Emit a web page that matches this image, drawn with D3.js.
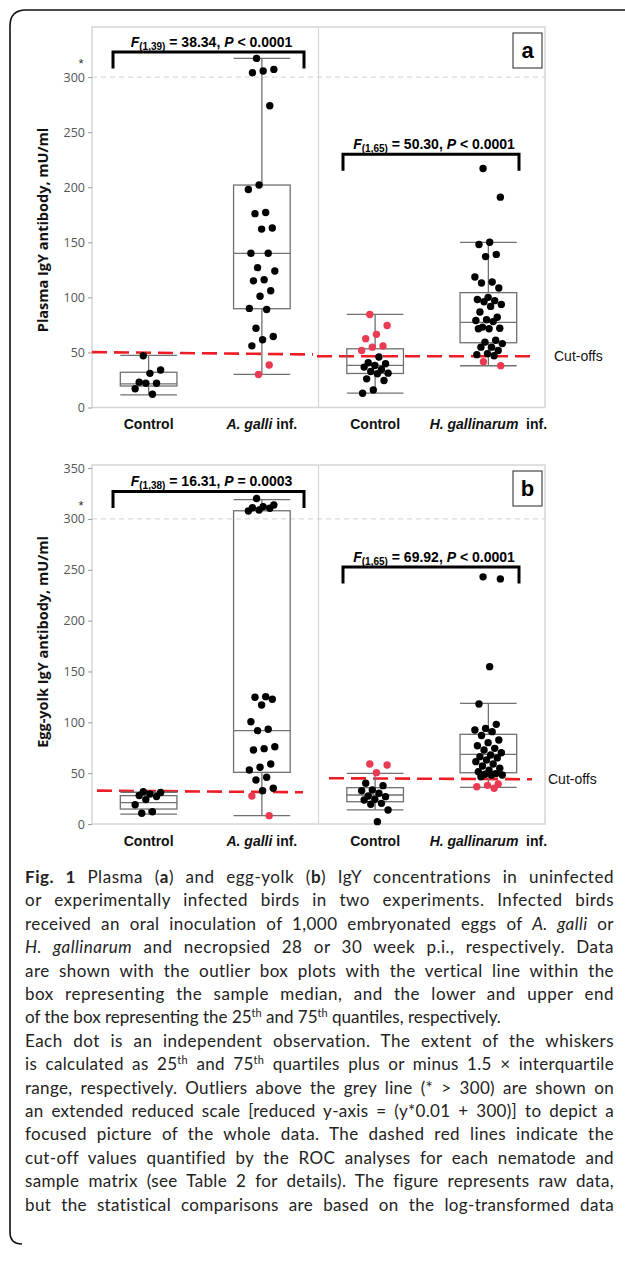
<!DOCTYPE html>
<html>
<head>
<meta charset="utf-8">
<script src="https://cdn.jsdelivr.net/npm/d3@7"></script>
<style>
  body { margin: 0; background: #fff; }
  svg { display: block; }
</style>
</head>
<body>
<div id="figure"></div>
<script>
// groups on the x axis (indexed, "Control" appears twice)
const categories = ["Control", "A. galli inf.", "Control", "H. gallinarum inf."];
const italicParts = ["", "A. galli", "", "H. gallinarum"];

const plasmaTicks = [0, 50, 100, 150, 200, 250, 300];
const yolkTicks = [0, 50, 100, 150, 200, 250, 300, 350];

// plasma IgY, mU/ml (values above 300 already on the reduced scale)
const plasmaControlGalli = [47, 34, 31, 23, 22, 22, 17, 12];
const plasmaGalli = [317, 307, 305.5, 304, 274, 202, 198, 177, 176, 163, 162, 140, 140, 127, 124,
  116, 115, 106, 101, 90, 89, 72, 64.5, 61.5, 56, 38.6, 30];
const plasmaControlHgal = [84.5, 74.5, 66.4, 62.4, 55.8, 54.8, 51.8, 45.8, 40.6, 39.7, 38.2, 36.7,
  34.5, 32.7, 31.2, 30.6, 26, 24.5, 16, 13];
const plasmaHgal = [217, 191, 150, 148, 139, 137, 118.5, 114, 113, 108.5, 100, 98, 97, 96, 93.6, 91.8,
  86.7, 82, 79.7, 79, 78, 73, 72, 71.5, 71.5, 61, 59.4, 58, 54.8, 54.8, 51.8, 48.8, 48, 47, 41.5, 38];

// [lower whisker, q1, median, q3, upper whisker]
const plasmaBoxes = [
  [11.5, 19.5, 21.5, 32, 47.3],
  [30, 89.7, 140, 202, 317],
  [13, 30.9, 38.2, 53.3, 84.5],
  [37.9, 58.8, 77.3, 104.3, 150]
];
// cut-off [start, end] for A. galli and H. gallinarum experiments
const plasmaCutoffs = [[50.3, 48.2], [46.6, 46.6]];
const plasmaBracketLevels = [322.7, 230];
const plasmaStats = [
  { df: "(1,39)", F: "38.34", rel: "<", P: "0.0001" },
  { df: "(1,65)", F: "50.30", rel: "<", P: "0.0001" }
];

// egg-yolk IgY, mU/ml
const yolkControlGalli = [31.8, 31, 29.5, 28, 27, 24, 19, 12, 10.5];
const yolkGalli = [320, 313.7, 312, 311, 310.4, 308.7, 307.8, 125.2, 124.6, 122.6, 117, 100.6, 93.1,
  91.8, 76, 74.1, 72.8, 59, 55.8, 53.1, 45.9, 43.3, 35.1, 32.8, 27.5, 8.2];
const yolkControlHgal = [59, 58, 50.5, 40, 37.7, 33.4, 32.8, 30.2, 27.5, 26.9, 24.3, 23.6, 20.3,
  19.4, 13.8, 2.3];
const yolkHgal = [243, 241, 154.7, 118, 98, 94, 92.4, 90.8, 87, 82.6, 80, 77, 74.4, 72.8, 70, 67.8,
  66.2, 65, 62.9, 61.3, 59, 57, 54.8, 53, 51.4, 49.5, 48.9, 48.2, 48.2, 46.5, 39.3, 38, 36.7, 35.1];
const yolkBoxes = [
  [9.8, 14.7, 21, 27.9, 31.2],
  [8.2, 50.8, 91.8, 308, 319],
  [13.8, 21.9, 28.5, 35.7, 49.8],
  [36, 50.4, 68.5, 88.2, 118.7]
];
const yolkCutoffs = [[32.8, 31.2], [45, 44]];
const yolkBracketLevels = [327, 252.7];
const yolkStats = [
  { df: "(1,38)", F: "16.31", rel: "=", P: "0.0003" },
  { df: "(1,65)", F: "69.92", rel: "<", P: "0.0001" }
];

const captionLines = [
  "**Fig. 1** Plasma (**a**) and egg-yolk (**b**) IgY concentrations in uninfected",
  "or experimentally infected birds in two experiments. Infected birds",
  "received an oral inoculation of 1,000 embryonated eggs of _A. galli_ or",
  "_H. gallinarum_ and necropsied 28 or 30 week p.i., respectively. Data",
  "are shown with the outlier box plots with the vertical line within the",
  "box representing the sample median, and the lower and upper end",
  "of the box representing the 25^th^ and 75^th^ quantiles, respectively.",
  "Each dot is an independent observation. The extent of the whiskers",
  "is calculated as 25^th^ and 75^th^ quartiles plus or minus 1.5 × interquartile",
  "range, respectively. Outliers above the grey line (* > 300) are shown on",
  "an extended reduced scale [reduced y-axis = (y*0.01 + 300)] to depict a",
  "focused picture of the whole data. The dashed red lines indicate the",
  "cut-off values quantified by the ROC analyses for each nematode and",
  "sample matrix (see Table 2 for details). The figure represents raw data,",
  "but the statistical comparisons are based on the log-transformed data"
];
const raggedLines = [6];

const width = 625, height = 1267;
const RED = "#ee1c25", DOT_RED = "#ea3b52", BOX = "#707070", FRAME = "#d6d6d6";
const arial = "'Liberation Sans', Arial, sans-serif";
const open = "'Open Sans', 'Noto Sans', sans-serif";

const svg = d3.select("#figure").append("svg")
  .attr("width", width).attr("height", height);

// outer caption frame (top + left)
svg.append("path")
  .attr("d", "M22,1244 Q10,1244 10,1232 L10,26 Q10,10 26,10 L625,10")
  .attr("fill", "none").attr("stroke", "#111").attr("stroke-width", 1.6);

const x = d3.scaleBand().domain([0, 1, 2, 3]).range([92, 545]).padding(0);
const bw = x.bandwidth();

function drawPanel(opt) {
  const g = svg.append("g");
  const y = d3.scaleLinear().domain([0, opt.yMax]).range([opt.bottom, opt.top]);
  const [x0, x1] = x.range();

  g.append("rect")
    .attr("x", x0).attr("y", opt.top)
    .attr("width", x1 - x0).attr("height", opt.bottom - opt.top)
    .attr("fill", "none").attr("stroke", FRAME).attr("stroke-width", 1.5);
  g.append("line")
    .attr("x1", x(2)).attr("x2", x(2)).attr("y1", opt.top).attr("y2", opt.bottom)
    .attr("stroke", FRAME).attr("stroke-width", 1.2);

  // grey break line at 300
  g.append("line")
    .attr("x1", x0).attr("x2", x1).attr("y1", y(300)).attr("y2", y(300))
    .attr("stroke", "#cfcfcf").attr("stroke-width", 1).attr("stroke-dasharray", "5,4");

  // y axis
  const yAxis = g.append("g")
    .attr("transform", `translate(${x0},0)`)
    .call(d3.axisLeft(y).tickValues(opt.ticks).tickSize(4).tickPadding(3));
  yAxis.select(".domain").remove();
  yAxis.selectAll(".tick line").attr("stroke", "#9a9a9a");
  yAxis.selectAll(".tick text")
    .attr("fill", "#555").style("font-family", open).style("font-size", "12.5px");
  g.append("text")
    .attr("x", x0 - 11).attr("y", y(300) - 9)
    .attr("text-anchor", "middle")
    .style("font-family", arial).style("font-size", "13px").attr("fill", "#333")
    .text("*");

  // cut-off lines
  opt.cutoffs.forEach((c, i) => {
    const ext = opt.cutoffExtent[i];
    g.append("line")
      .attr("x1", ext[0]).attr("x2", ext[1])
      .attr("y1", y(c[0])).attr("y2", y(c[1]))
      .attr("stroke", RED).attr("stroke-width", 2.6).attr("stroke-dasharray", "15,7");
  });
  g.append("text")
    .attr("x", opt.cutLabelX).attr("y", y(opt.cutoffs[1][1]) + 5)
    .style("font-family", arial).style("font-size", "14px").attr("fill", "#111")
    .text("Cut-offs");

  // boxes
  const boxW = bw * 0.5;
  opt.boxes.forEach((b, i) => {
    const cx = x(i) + bw / 2;
    const bg = g.append("g").attr("stroke", BOX).attr("stroke-width", 1.3).attr("fill", "none");
    bg.append("line").attr("x1", cx).attr("x2", cx).attr("y1", y(b[0])).attr("y2", y(b[1]));
    bg.append("line").attr("x1", cx).attr("x2", cx).attr("y1", y(b[3])).attr("y2", y(b[4]));
    bg.append("rect").attr("x", cx - boxW / 2).attr("width", boxW)
      .attr("y", y(b[3])).attr("height", y(b[1]) - y(b[3]));
    [b[0], b[2], b[4]].forEach(v => {
      bg.append("line").attr("x1", cx - boxW / 2).attr("x2", cx + boxW / 2)
        .attr("y1", y(v)).attr("y2", y(v));
    });
  });

  // dots, red when misclassified by the cut-off
  opt.groups.forEach((vals, i) => {
    const cx = x(i) + bw / 2;
    const cut = d3.mean(opt.cutoffs[i < 2 ? 0 : 1]);
    const infected = i % 2 === 1;
    g.append("g").selectAll("circle")
      .data(vals)
      .join("circle")
      .attr("cx", (d, j) => cx + (((j * 0.618034 + 0.31) % 1) - 0.5) * 28)
      .attr("cy", d => y(d))
      .attr("r", 3.7)
      .attr("fill", d => (infected ? d < cut : d > cut) ? DOT_RED : "#000");
  });

  // significance brackets
  const spans = [[x(0) + 21, x(1) + bw - 14.5], [x(2) + 24.5, x(3) + bw - 26]];
  opt.bracketLevels.forEach((lvl, i) => {
    const [a, b] = spans[i];
    const by = y(lvl);
    g.append("path")
      .attr("d", `M${a},${by + 16.5}V${by}H${b}V${by + 16.5}`)
      .attr("fill", "none").attr("stroke", "#000").attr("stroke-width", 3);
    const s = opt.stats[i];
    const t = g.append("text")
      .attr("x", (a + b) / 2 + 3).attr("y", by - 5.5)
      .attr("text-anchor", "middle")
      .style("font-family", arial).style("font-weight", "bold").style("font-size", "14px");
    t.append("tspan").style("font-style", "italic").text("F");
    t.append("tspan").attr("dy", 3).style("font-size", "10px").text(s.df);
    t.append("tspan").attr("dy", -3).text(` = ${s.F}, `);
    t.append("tspan").style("font-style", "italic").text("P");
    t.append("tspan").text(` ${s.rel} ${s.P}`);
  });

  // category labels
  const xAxis = g.append("g")
    .attr("transform", `translate(0,${opt.bottom})`)
    .call(d3.axisBottom(x).tickSize(0).tickPadding(opt.labelPad).tickFormat(""));
  xAxis.select(".domain").remove();
  xAxis.selectAll(".tick text").each(function (i) {
    const t = d3.select(this)
      .attr("fill", "#111")
      .style("font-family", arial).style("font-weight", "bold").style("font-size", "14px");
    if (italicParts[i]) {
      t.append("tspan").style("font-style", "italic").text(italicParts[i]);
      t.append("tspan").text(i === 3 ? "\u00a0 inf." : " inf.");
    } else {
      t.text(categories[i]);
    }
  });

  // y title
  g.append("text")
    .attr("transform", `translate(43,${opt.titleY}) rotate(-90)`)
    .attr("text-anchor", "middle").attr("dy", "0.35em")
    .style("font-family", open).style("font-weight", "bold").style("font-size", "14.5px")
    .attr("fill", "#111")
    .text(opt.title);

  // panel letter
  g.append("rect")
    .attr("x", 513).attr("y", opt.top + 6).attr("width", 29).attr("height", 35)
    .attr("fill", "#fff").attr("stroke", "#222").attr("stroke-width", 1);
  g.append("text")
    .attr("x", 527.5).attr("y", opt.top + 31).attr("text-anchor", "middle")
    .style("font-family", arial).style("font-weight", "bold").style("font-size", "22px")
    .text(opt.letter);
}

drawPanel({
  top: 27, bottom: 407.5, yMax: 345.5, ticks: plasmaTicks,
  groups: [plasmaControlGalli, plasmaGalli, plasmaControlHgal, plasmaHgal],
  boxes: plasmaBoxes, cutoffs: plasmaCutoffs,
  cutoffExtent: [[92, 313], [317, 537]], cutLabelX: 554,
  bracketLevels: plasmaBracketLevels, stats: plasmaStats,
  title: "Plasma IgY antibody, mU/ml", titleY: 230, letter: "a", labelPad: 12
});

drawPanel({
  top: 465, bottom: 824, yMax: 353, ticks: yolkTicks,
  groups: [yolkControlGalli, yolkGalli, yolkControlHgal, yolkHgal],
  boxes: yolkBoxes, cutoffs: yolkCutoffs,
  cutoffExtent: [[97, 303], [329, 532]], cutLabelX: 548,
  bracketLevels: yolkBracketLevels, stats: yolkStats,
  title: "Egg-yolk IgY antibody, mU/ml", titleY: 642, letter: "b", labelPad: 12
});

// caption, each line justified: mostly wider word gaps, a little letter spacing
const cap = svg.append("g")
  .style("font-family", "Lato, 'Open Sans', sans-serif").style("font-size", "17px")
  .attr("fill", "#222");
const lineWidth = 589;
captionLines.forEach((line, i) => {
  const t = cap.append("text").attr("x", 25).attr("y", 883 + i * 23.4);
  let shift = 0;
  line.split(/(\*\*[^*]+\*\*|_[^_]+_|\^[^^]+\^)/).filter(s => s).forEach(part => {
    let span;
    if (part.startsWith("**")) {
      span = t.append("tspan").style("font-weight", "bold").text(part.slice(2, -2));
    } else if (part.startsWith("_")) {
      span = t.append("tspan").style("font-style", "italic").text(part.slice(1, -1));
    } else if (part.startsWith("^")) {
      span = t.append("tspan").style("font-size", "11px").text(part.slice(1, -1));
      span.attr("dy", -6.5 - shift);
      shift = -6.5;
      return;
    } else {
      span = t.append("tspan").text(part);
    }
    if (shift) { span.attr("dy", -shift); shift = 0; }
  });
  if (!raggedLines.includes(i)) {
    const txt = t.text();
    const gaps = (txt.match(/ /g) || []).length;
    const extra = lineWidth - t.node().getComputedTextLength();
    const letter = Math.max(0, extra * 0.35 / txt.length);
    t.style("letter-spacing", letter + "px");
    const rest = lineWidth - t.node().getComputedTextLength();
    t.style("word-spacing", (rest / gaps) + "px");
  }
});
</script>
</body>
</html>
